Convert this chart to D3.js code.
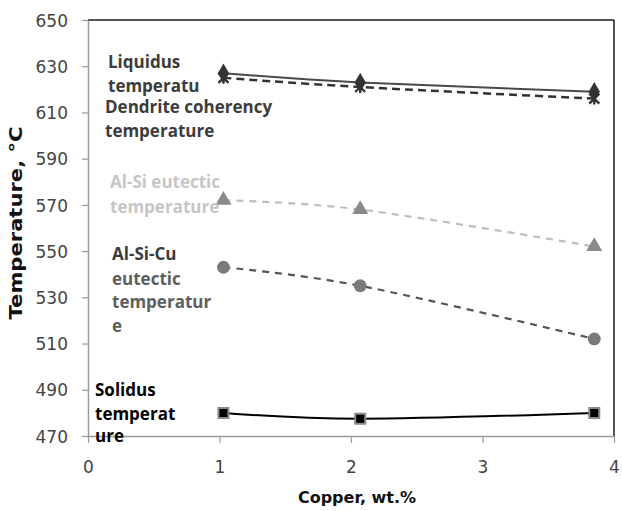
<!DOCTYPE html>
<html>
<head>
<meta charset="utf-8">
<script src="https://cdn.jsdelivr.net/npm/d3@7"></script>
<style>
  html, body { margin: 0; padding: 0; background: #fff; }
  svg { display: block; }
</style>
</head>
<body>
<div id="chart"></div>
<script>
// ---- data ----
const copper   = [1.03, 2.07, 3.85];
const liquidus = [627, 623, 619];
const dendrite = [625, 621, 616];
const alSi     = [572, 568, 552];
const alSiCu   = [543, 535, 512];
const solidus  = [480, 477.5, 480];
const xTicks = [0, 1, 2, 3, 4];
const yTicks = [470, 490, 510, 530, 550, 570, 590, 610, 630, 650];
const xTitle = "Copper, wt.%";
const yTitle = "Temperature, °C";
const labelLiquidus = ["Liquidus", "temperatu"];
const labelDendrite = ["Dendrite coherency", "temperature"];
const labelAlSi     = ["Al-Si eutectic", "temperature"];
const labelAlSiCu   = ["Al-Si-Cu", "eutectic", "temperatur", "e"];
const labelSolidus  = ["Solidus", "temperat", "ure"];

// ---- layout ----
const W = 622, H = 511;
const L = 88, R = 614, T = 20, B = 436;
const OPEN = "'Open Sans', 'DejaVu Sans', sans-serif";
const DEJA = "'DejaVu Sans', sans-serif";

const svg = d3.select("#chart").append("svg").attr("width", W).attr("height", H)
  .style("font-family", OPEN);

const x = d3.scaleLinear().domain([0, 4]).range([L, R]);
const y = d3.scaleLinear().domain([470, 650]).range([B, T]);

// plot frame: top & right dark
svg.append("line").attr("x1", L).attr("x2", R).attr("y1", T).attr("y2", T)
  .attr("stroke", "#1a1a1a").attr("stroke-width", 1.5);
svg.append("line").attr("x1", R).attr("x2", R).attr("y1", T).attr("y2", B)
  .attr("stroke", "#1a1a1a").attr("stroke-width", 1.5);

// axes
const fmt = d3.format("d");
const yAxis = svg.append("g").attr("transform", `translate(${L},0)`)
  .call(d3.axisLeft(y).tickValues(yTicks).tickFormat(fmt).tickSize(6).tickSizeOuter(0));
const xAxis = svg.append("g").attr("transform", `translate(0,${B})`)
  .call(d3.axisBottom(x).tickValues(xTicks).tickFormat(fmt).tickSize(7).tickSizeOuter(0));
[yAxis, xAxis].forEach(g => {
  g.attr("font-family", null).attr("font-size", null);
  g.select(".domain").attr("stroke", "#9a9a9a").attr("stroke-width", 1.5);
  g.selectAll(".tick line").attr("stroke", "#9a9a9a").attr("stroke-width", 1.2);
  g.selectAll(".tick text").attr("fill", "#444")
    .style("font-size", "17px").style("font-family", DEJA);
});
yAxis.selectAll(".tick text").attr("x", -20).attr("dy", "0.36em");
xAxis.selectAll(".tick text").attr("y", 37).attr("dy", null);

// axis titles
svg.append("text").attr("x", 357).attr("y", 503).attr("text-anchor", "middle")
  .style("font-family", DEJA).style("font-size", "16px").style("font-weight", "bold")
  .attr("fill", "#111").text(xTitle);
svg.append("text").attr("transform", "translate(22,223) rotate(-90)")
  .attr("text-anchor", "middle")
  .style("font-family", DEJA).style("font-size", "17px").style("font-weight", "bold")
  .attr("textLength", 193).attr("lengthAdjust", "spacingAndGlyphs")
  .attr("fill", "#111").text(yTitle);

// series
const curve = d3.curveCardinal.tension(0);
const line = d3.line().x(d => x(d[0])).y(d => y(d[1])).curve(curve);
const zip = vals => copper.map((c, i) => [c, vals[i]]);

const series = [
  { vals: alSi,     stroke: "#bdbdbd", width: 2.2, dash: "7,6" },
  { vals: alSiCu,   stroke: "#555555", width: 2.2, dash: "7,6" },
  { vals: solidus,  stroke: "#000000", width: 2,   dash: null },
  { vals: dendrite, stroke: "#333333", width: 2.5, dash: "8,5" },
  { vals: liquidus, stroke: "#4a4a4a", width: 2,   dash: null },
];
series.forEach(s => {
  svg.append("path").datum(zip(s.vals)).attr("d", line)
    .attr("fill", "none").attr("stroke", s.stroke).attr("stroke-width", s.width)
    .attr("stroke-dasharray", s.dash);
});

// markers
const sym = (type, size) => d3.symbol().type(type).size(size)();
function markers(vals, type, size, fill, stroke, sw) {
  svg.append("g").selectAll("path").data(zip(vals)).join("path")
    .attr("transform", d => `translate(${x(d[0])},${y(d[1])})`)
    .attr("d", sym(type, size))
    .attr("fill", fill).attr("stroke", stroke).attr("stroke-width", sw);
}
markers(alSi, d3.symbolTriangle, 110, "#8a8a8a", "none", 0);
markers(alSiCu, d3.symbolCircle, 130, "#7a7a7a", "none", 0);
markers(solidus, d3.symbolSquare, 100, "#000", "#8a8a8a", 2);
markers(liquidus, d3.symbolDiamond, 110, "#333", "none", 0);
// dendrite: asterisk marker
svg.append("g").selectAll("path").data(zip(dendrite)).join("path")
  .attr("transform", d => `translate(${x(d[0])},${y(d[1])})`)
  .attr("d", "M-5,-5L5,5M-5,5L5,-5M0,-6L0,6")
  .attr("stroke", "#333").attr("stroke-width", 2.4).attr("fill", "none");

// labels
function label(lines, x0, baselines, fill, size) {
  const t = svg.append("text").style("font-family", OPEN).style("font-size", size + "px")
    .style("font-weight", "bold").attr("fill", fill);
  lines.forEach((s, i) => t.append("tspan").attr("x", x0).attr("y", baselines[i]).text(s));
  return t;
}
label(labelLiquidus, 108, [68, 92], "#3c3c3c", 17);
label(labelDendrite, 105, [113, 137], "#3c3c3c", 17);
label(labelAlSi, 110, [188, 213], "#c6c6c6", 17);
label(labelAlSiCu.slice(0, 1), 112, [260], "#3c3c3c", 17);
label(labelAlSiCu.slice(1), 112, [285, 308, 332], "#5e5e5e", 17);
label(labelSolidus, 95, [396, 420, 442], "#000", 17);
</script>
</body>
</html>
